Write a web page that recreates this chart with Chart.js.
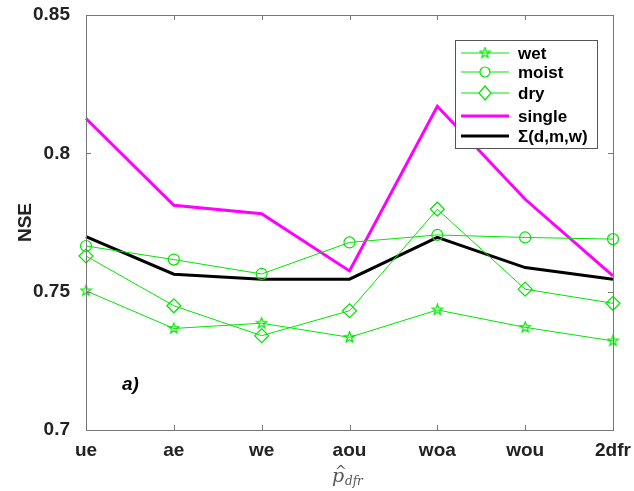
<!DOCTYPE html>
<html>
<head>
<meta charset="utf-8">
<script src="https://cdn.jsdelivr.net/npm/chart.js@4"></script>
<style>
  html, body { margin: 0; padding: 0; background: #fff; }
  #wrap { width: 634px; height: 491px; }
</style>
</head>
<body>
<div id="wrap"><canvas id="chart" width="634" height="491"></canvas></div>
<script>
const categories = ["ue", "ae", "we", "aou", "woa", "wou", "2dfr"];
const wet    = [0.7503, 0.7367, 0.7386, 0.7335, 0.7434, 0.7371, 0.7322];
const moist  = [0.7665, 0.7616, 0.7564, 0.7678, 0.7705, 0.7696, 0.7690];
const dry    = [0.7629, 0.7449, 0.7341, 0.7431, 0.7798, 0.7509, 0.7458];
const single = [0.8126, 0.7812, 0.7782, 0.7575, 0.8170, 0.7834, 0.7557];
const sumDMW = [0.7699, 0.7563, 0.7545, 0.7545, 0.7696, 0.7587, 0.7545];
const yTicks = [0.7, 0.75, 0.8, 0.85];

const GREEN = "#00e600";
const FONT = "'Liberation Sans', Arial, sans-serif";

// pentagram marker (matlab style)
function makeStar(size, color) {
  const c = document.createElement("canvas");
  c.width = size; c.height = size;
  const g = c.getContext("2d");
  const cx = size / 2, cy = size / 2, R = size / 2 - 1, r = R * 0.4;
  g.beginPath();
  for (let i = 0; i < 10; i++) {
    const rad = i % 2 === 0 ? R : r;
    const a = -Math.PI / 2 + i * Math.PI / 5;
    const px = cx + rad * Math.cos(a), py = cy + rad * Math.sin(a);
    if (i === 0) g.moveTo(px, py); else g.lineTo(px, py);
  }
  g.closePath();
  g.strokeStyle = color;
  g.lineWidth = 1.2;
  g.stroke();
  return c;
}
const starImg = makeStar(13, GREEN);

const frame = {
  id: "frame",
  afterDraw(chart) {
    const { ctx, chartArea: a, scales } = chart;
    const x = scales.x, y = scales.y;
    ctx.save();
    ctx.strokeStyle = "#777";
    ctx.lineWidth = 1;
    ctx.strokeRect(a.left + 0.5, a.top + 0.5, a.right - a.left, a.bottom - a.top);
    ctx.beginPath();
    categories.forEach((c, i) => {
      const px = Math.round(x.getPixelForValue(i)) + 0.5;
      ctx.moveTo(px, a.bottom); ctx.lineTo(px, a.bottom - 5);
      ctx.moveTo(px, a.top); ctx.lineTo(px, a.top + 5);
    });
    yTicks.forEach(v => {
      const py = Math.round(y.getPixelForValue(v)) + 0.5;
      ctx.moveTo(a.left, py); ctx.lineTo(a.left + 5, py);
      ctx.moveTo(a.right, py); ctx.lineTo(a.right - 5, py);
    });
    ctx.stroke();

    // panel tag
    ctx.fillStyle = "#000";
    ctx.font = "italic bold 19px " + FONT;
    ctx.textBaseline = "middle";
    ctx.fillText("a)", 122, 385);

    // x axis title: p-hat with subscript dfr
    ctx.fillStyle = "#555";
    ctx.font = "italic 19px 'DejaVu Serif', serif";
    ctx.textBaseline = "alphabetic";
    ctx.fillText("p", 332, 482);
    ctx.font = "14px 'DejaVu Serif', serif";
    ctx.fillText("^", 335, 476);
    ctx.font = "italic 12px 'DejaVu Serif', serif";
    ctx.fillText("dfr", 345, 485);

    // legend
    const lx = 455, ly = 40, lw = 142, lh = 108;
    ctx.fillStyle = "#fff";
    ctx.fillRect(lx, ly, lw, lh);
    ctx.strokeStyle = "#555";
    ctx.strokeRect(lx + 0.5, ly + 0.5, lw, lh);
    const items = [
      { t: "wet", c: GREEN, w: 1, m: "star" },
      { t: "moist", c: GREEN, w: 1, m: "circle" },
      { t: "dry", c: GREEN, w: 1, m: "diamond" },
      { t: "single", c: "#ff00ff", w: 3 },
      { t: "\u03a3(d,m,w)", c: "#000", w: 3 }
    ];
    const rowsY = [53, 72, 93, 116, 136];
    items.forEach((it, i) => {
      const yy = rowsY[i];
      ctx.strokeStyle = it.c;
      ctx.lineWidth = it.w;
      ctx.beginPath();
      ctx.moveTo(461, yy); ctx.lineTo(509, yy);
      ctx.stroke();
      ctx.lineWidth = 1.2;
      const mx = 485;
      if (it.m === "star") {
        ctx.drawImage(starImg, mx - 6.5, yy - 6.5);
      } else if (it.m === "circle") {
        ctx.fillStyle = "#fff";
        ctx.beginPath(); ctx.arc(mx, yy, 5, 0, Math.PI * 2); ctx.fill(); ctx.stroke();
      } else if (it.m === "diamond") {
        ctx.fillStyle = "#fff";
        ctx.beginPath();
        ctx.moveTo(mx, yy - 7); ctx.lineTo(mx + 6, yy); ctx.lineTo(mx, yy + 7); ctx.lineTo(mx - 6, yy);
        ctx.closePath(); ctx.fill(); ctx.stroke();
      }
      ctx.fillStyle = "#000";
      ctx.font = "bold 17px " + FONT;
      ctx.textBaseline = "middle";
      ctx.fillText(it.t, 518, yy + 1);
    });
    ctx.restore();
  }
};

const ctx = document.getElementById("chart").getContext("2d");
new Chart(ctx, {
  type: "line",
  data: {
    labels: categories,
    datasets: [
      { label: "wet", data: wet, borderColor: GREEN, borderWidth: 1, pointStyle: starImg,
        pointRadius: 6, backgroundColor: "transparent" },
      { label: "moist", data: moist, borderColor: GREEN, borderWidth: 1, pointStyle: "circle",
        pointRadius: 5.5, pointBorderWidth: 1.2, pointBackgroundColor: "transparent", pointBorderColor: GREEN },
      { label: "dry", data: dry, borderColor: GREEN, borderWidth: 1, pointStyle: "rectRot",
        pointRadius: 7, pointBorderWidth: 1.2, pointBackgroundColor: "transparent", pointBorderColor: GREEN },
      { label: "single", data: single, borderColor: "#ff00ff", borderWidth: 3, pointRadius: 0 },
      { label: "\u03a3(d,m,w)", data: sumDMW, borderColor: "#000", borderWidth: 3, pointRadius: 0 }
    ]
  },
  options: {
    responsive: false,
    animation: false,
    events: [],
    layout: { padding: { top: 15, right: 21, left: 0, bottom: 0 } },
    plugins: { legend: { display: false }, tooltip: { enabled: false } },
    scales: {
      x: {
        type: "category",
        offset: false,
        grid: { display: false },
        border: { display: false },
        ticks: { color: "#222", font: { family: FONT, size: 19, weight: "bold" }, padding: 1, maxRotation: 0, autoSkip: false },
        afterFit(s) { s.height = 61; s.paddingLeft = 0; s.paddingRight = 0; }
      },
      y: {
        min: 0.7, max: 0.85,
        grid: { display: false },
        border: { display: false },
        afterBuildTicks(s) { s.ticks = yTicks.map(v => ({ value: v })); },
        ticks: { color: "#222", font: { family: FONT, size: 19, weight: "bold" }, padding: 8,
          callback: v => String(Math.round(v * 100) / 100) },
        title: { display: true, text: "NSE", color: "#222", font: { family: FONT, size: 19, weight: "bold" }, padding: { top: 14, bottom: 0 } },
        afterFit(s) { s.width = 86; s.paddingTop = 0; s.paddingBottom = 0; }
      }
    }
  },
  plugins: [frame]
});
</script>
</body>
</html>
